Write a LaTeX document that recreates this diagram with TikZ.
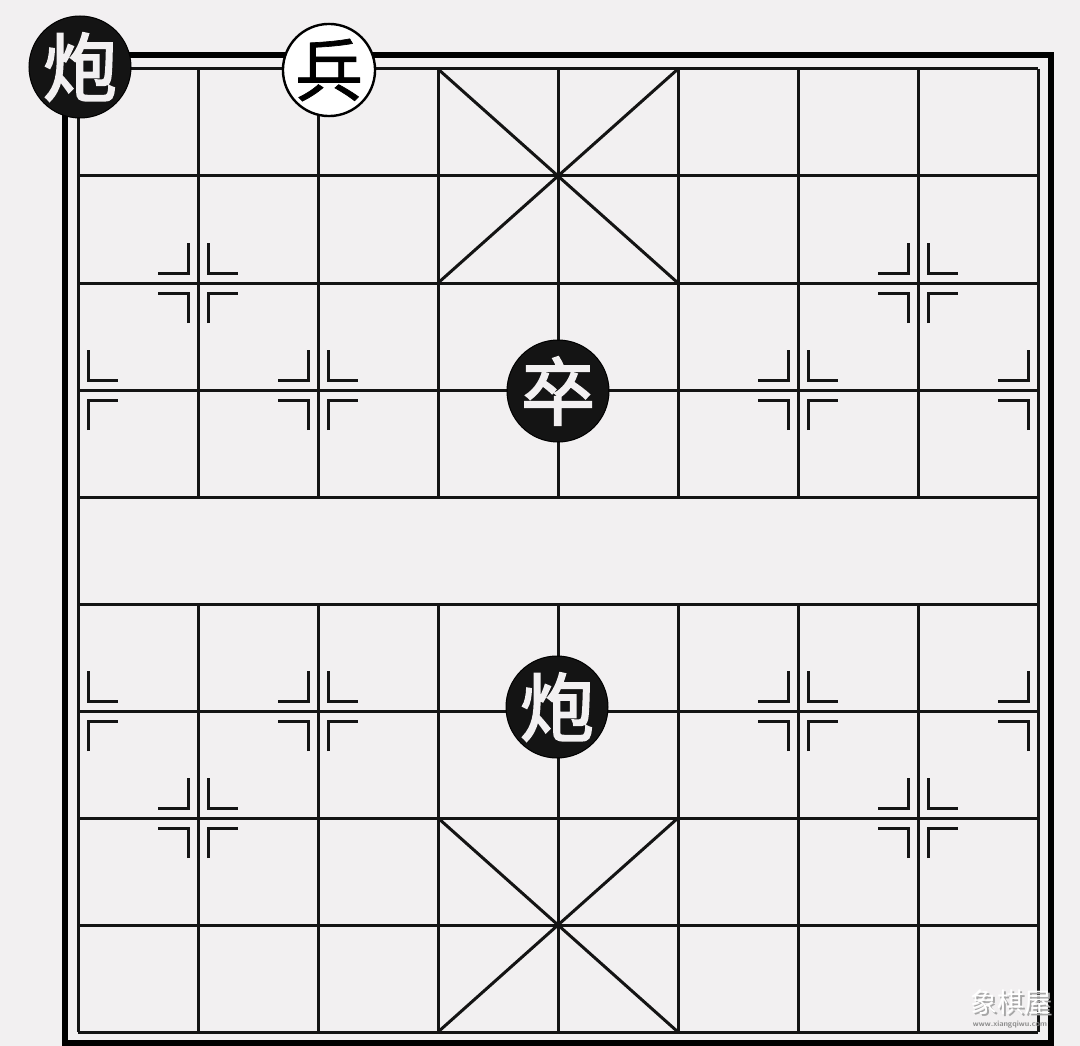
\documentclass[tikz,border=0pt]{standalone}
\usepackage{fontspec}
\newfontfamily\cjk{Noto Sans CJK SC}
\newfontfamily\cjkb{Noto Sans CJK SC}[FakeBold=2.5]
\newfontfamily\cjkm{Noto Sans CJK SC}[FakeBold=1]
\definecolor{bg}{HTML}{F2F0F1}
\newcommand\mkleft[2]{%
  \draw[mk] (#1-10,#2-40) -- (#1-10,#2-10) -- (#1-40,#2-10);
  \draw[mk] (#1-10,#2+40) -- (#1-10,#2+10) -- (#1-40,#2+10);}
\newcommand\mkright[2]{%
  \draw[mk] (#1+10,#2-40) -- (#1+10,#2-10) -- (#1+40,#2-10);
  \draw[mk] (#1+10,#2+40) -- (#1+10,#2+10) -- (#1+40,#2+10);}
\begin{document}
\begin{tikzpicture}[x=1pt,y=-1pt,
  gridline/.style={line width=3pt,black!92},
  mk/.style={line width=3pt,black!92},
  frame/.style={line width=5.5pt,black},
  blackpc/.style={circle,fill=black!92,draw=black,line width=1pt,minimum size=102pt,inner sep=0pt,text=bg,font=\cjkb\fontsize{74}{74}\selectfont},
  redpc/.style={circle,fill=white,draw=black,line width=2.4pt,minimum size=92pt,inner sep=0pt,text=black,font=\cjkm\fontsize{68}{68}\selectfont},
  wmark/.style={inner sep=0pt,font=\cjk\fontsize{27}{27}\selectfont}]
\fill[bg] (0,0) rectangle (1080,1046);
\useasboundingbox (0,0) rectangle (1080,1046);
% outer frame
\draw[frame] (65,55) rectangle (1051,1043);
% horizontal lines
\foreach \i in {0,...,9} \draw[gridline] (78,69+107*\i) -- (1038,69+107*\i);
% edge verticals
\draw[gridline] (78,69) -- (78,1032);
\draw[gridline] (1038,69) -- (1038,1032);
% inner verticals
\foreach \j in {1,...,7} {
  \draw[gridline] (78+120*\j,69) -- (78+120*\j,497);
  \draw[gridline] (78+120*\j,604) -- (78+120*\j,1032);
}
% palaces
\draw[gridline] (438,69) -- (678,283);
\draw[gridline] (678,69) -- (438,283);
\draw[gridline] (438,818) -- (678,1032);
\draw[gridline] (678,818) -- (438,1032);
% position markers
\foreach \x/\y in {198/283,918/283,318/390,798/390,318/711,798/711,198/818,918/818} {
  \mkleft{\x}{\y}\mkright{\x}{\y}
}
\mkright{78}{390}\mkleft{1038}{390}
\mkright{78}{711}\mkleft{1038}{711}
% pieces
\node[blackpc] (pao1) at (80,67) {炮};
\node[redpc] (bing) at (329,70) {兵};
\node[blackpc] (zu) at (558,391) {卒};
\node[blackpc] (pao2) at (557,707) {炮};
% watermark
\node[wmark,text=black!35] (wms) at (1013,1004) {象棋屋};
\node[wmark,text=white] (wm) at (1011,1002) {象棋屋};
\node[inner sep=0pt,text=black!45,font=\sffamily\bfseries\fontsize{8}{8}\selectfont] (url) at (1010,1025) {www.xiangqiwu.com};
\end{tikzpicture}
\end{document}
